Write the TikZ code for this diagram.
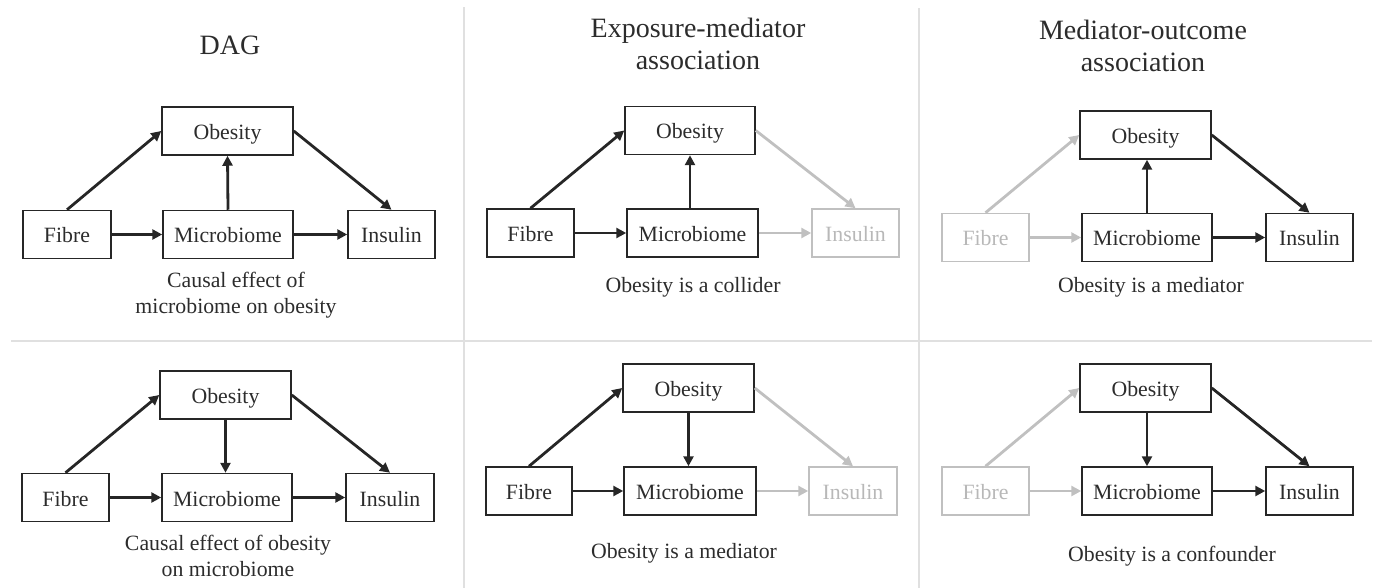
\documentclass[tikz,border=0pt]{standalone}
\usepackage{fontspec}
\setmainfont{Liberation Serif}
\usetikzlibrary{arrows.meta}
\definecolor{dk}{HTML}{262626}
\definecolor{txt}{HTML}{2C2C2C}
\definecolor{lt}{HTML}{C0C0C0}
\definecolor{ltt}{HTML}{B8B8B8}
\definecolor{divc}{HTML}{E0E0E0}
\tikzset{
  box/.style={draw=dk, line width=1.5pt, text=txt, inner sep=0pt, font=\fontsize{21.8}{24}\selectfont, minimum height=48pt, text height=17pt, text depth=0pt},
  lbox/.style={box, draw=lt, text=ltt},
  arr/.style={draw=dk, line width=2.8pt, -{Triangle[length=10pt,width=10pt]}},
  larr/.style={arr, draw=lt},
  captxt/.style={text=txt, align=center, font=\fontsize{21.8}{26}\selectfont},
  ttl/.style={text=txt, align=center, font=\fontsize{28}{32}\selectfont},
  divline/.style={draw=divc, line width=2pt}
}
\begin{document}
\begin{tikzpicture}[x=1pt,y=-1pt]
\useasboundingbox (0,0) rectangle (1377,588);
% dividers
\coordinate (v1t) at (464,7); \coordinate (v1b) at (464,588);
\coordinate (v2t) at (919,8); \coordinate (v2b) at (919,588);
\coordinate (hl) at (11,341); \coordinate (hr) at (1372,341);
\draw[divline] (v1t) -- (v1b);
\draw[divline] (v2t) -- (v2b);
\draw[divline] (hl) -- (hr);

% titles
\node[ttl] (t1) at (230,45) {DAG};
\node[ttl] (t2) at (698,44) {Exposure-mediator\\association};
\node[ttl] (t3) at (1143,46) {Mediator-outcome\\association};

% panel 1
\node[box, minimum width=131pt] (O1) at (227.5,131) {Obesity};
\node[box, minimum width=88pt] (F1) at (67,234.5) {Fibre};
\node[box, minimum width=130pt] (M1) at (228,234.5) {Microbiome};
\node[box, minimum width=87pt] (I1) at (391.5,234.5) {Insulin};
\draw[arr] (F1.north) -- (O1.west);
\draw[arr] (O1.east) -- (I1.north);
\draw[arr] (M1.north) -- (O1.south);
\draw[arr] (F1.east) -- (M1.west);
\draw[arr] (M1.east) -- (I1.west);
\node[captxt] (c1) at (236,295) {Causal effect of\\microbiome on obesity};

% panel 2
\node[box, minimum width=130pt] (O2) at (690,130.5) {Obesity};
\node[box, minimum width=87pt] (F2) at (530.5,233) {Fibre};
\node[box, minimum width=131pt] (M2) at (692.5,233) {Microbiome};
\node[lbox, minimum width=87pt] (I2) at (855.5,233) {Insulin};
\draw[arr] (F2.north) -- (O2.west);
\draw[larr] (O2.east) -- (I2.north);
\draw[arr] (M2.north -| O2.south) -- (O2.south);
\draw[arr] (F2.east) -- (M2.west);
\draw[larr] (M2.east) -- (I2.west);
\node[captxt] (c2) at (693,287) {Obesity is a collider};

% panel 3
\node[box, minimum width=131pt] (O3) at (1145.5,135) {Obesity};
\node[lbox, minimum width=87pt] (F3) at (985.5,237.5) {Fibre};
\node[box, minimum width=130pt] (M3) at (1147,237.5) {Microbiome};
\node[box, minimum width=87pt] (I3) at (1309.5,237.5) {Insulin};
\draw[larr] (F3.north) -- (O3.west);
\draw[arr] (O3.east) -- (I3.north);
\draw[arr] (M3.north) -- (O3.south -| M3.north);
\draw[larr] (F3.east) -- (M3.west);
\draw[arr] (M3.east) -- (I3.west);
\node[captxt] (c3) at (1151,287) {Obesity is a mediator};

% panel 4
\node[box, minimum width=131pt] (O4) at (225.5,395) {Obesity};
\node[box, minimum width=87pt] (F4) at (65.5,497.5) {Fibre};
\node[box, minimum width=130pt] (M4) at (227,497.5) {Microbiome};
\node[box, minimum width=88pt] (I4) at (390,497.5) {Insulin};
\draw[arr] (F4.north) -- (O4.west);
\draw[arr] (O4.east) -- (I4.north);
\draw[arr] (O4.south) -- (M4.north -| O4.south);
\draw[arr] (F4.east) -- (M4.west);
\draw[arr] (M4.east) -- (I4.west);
\node[captxt] (c4) at (228,555.5) {Causal effect of obesity\\on microbiome};

% panel 5
\node[box, minimum width=131pt] (O5) at (688.5,388) {Obesity};
\node[box, minimum width=86pt] (F5) at (529,491) {Fibre};
\node[box, minimum width=132pt] (M5) at (690,491) {Microbiome};
\node[lbox, minimum width=88pt] (I5) at (853,491) {Insulin};
\draw[arr] (F5.north) -- (O5.west);
\draw[larr] (O5.east) -- (I5.north);
\draw[arr] (O5.south) -- (M5.north -| O5.south);
\draw[arr] (F5.east) -- (M5.west);
\draw[larr] (M5.east) -- (I5.west);
\node[captxt] (c5) at (684,553) {Obesity is a mediator};

% panel 6
\node[box, minimum width=131pt] (O6) at (1145.5,388) {Obesity};
\node[lbox, minimum width=87pt] (F6) at (985.5,491) {Fibre};
\node[box, minimum width=130pt] (M6) at (1147,491) {Microbiome};
\node[box, minimum width=87pt] (I6) at (1309.5,491) {Insulin};
\draw[larr] (F6.north) -- (O6.west);
\draw[arr] (O6.east) -- (I6.north);
\draw[arr] (O6.south -| M6.north) -- (M6.north);
\draw[larr] (F6.east) -- (M6.west);
\draw[arr] (M6.east) -- (I6.west);
\node[captxt] (c6) at (1172,556) {Obesity is a confounder};
\end{tikzpicture}
\end{document}
